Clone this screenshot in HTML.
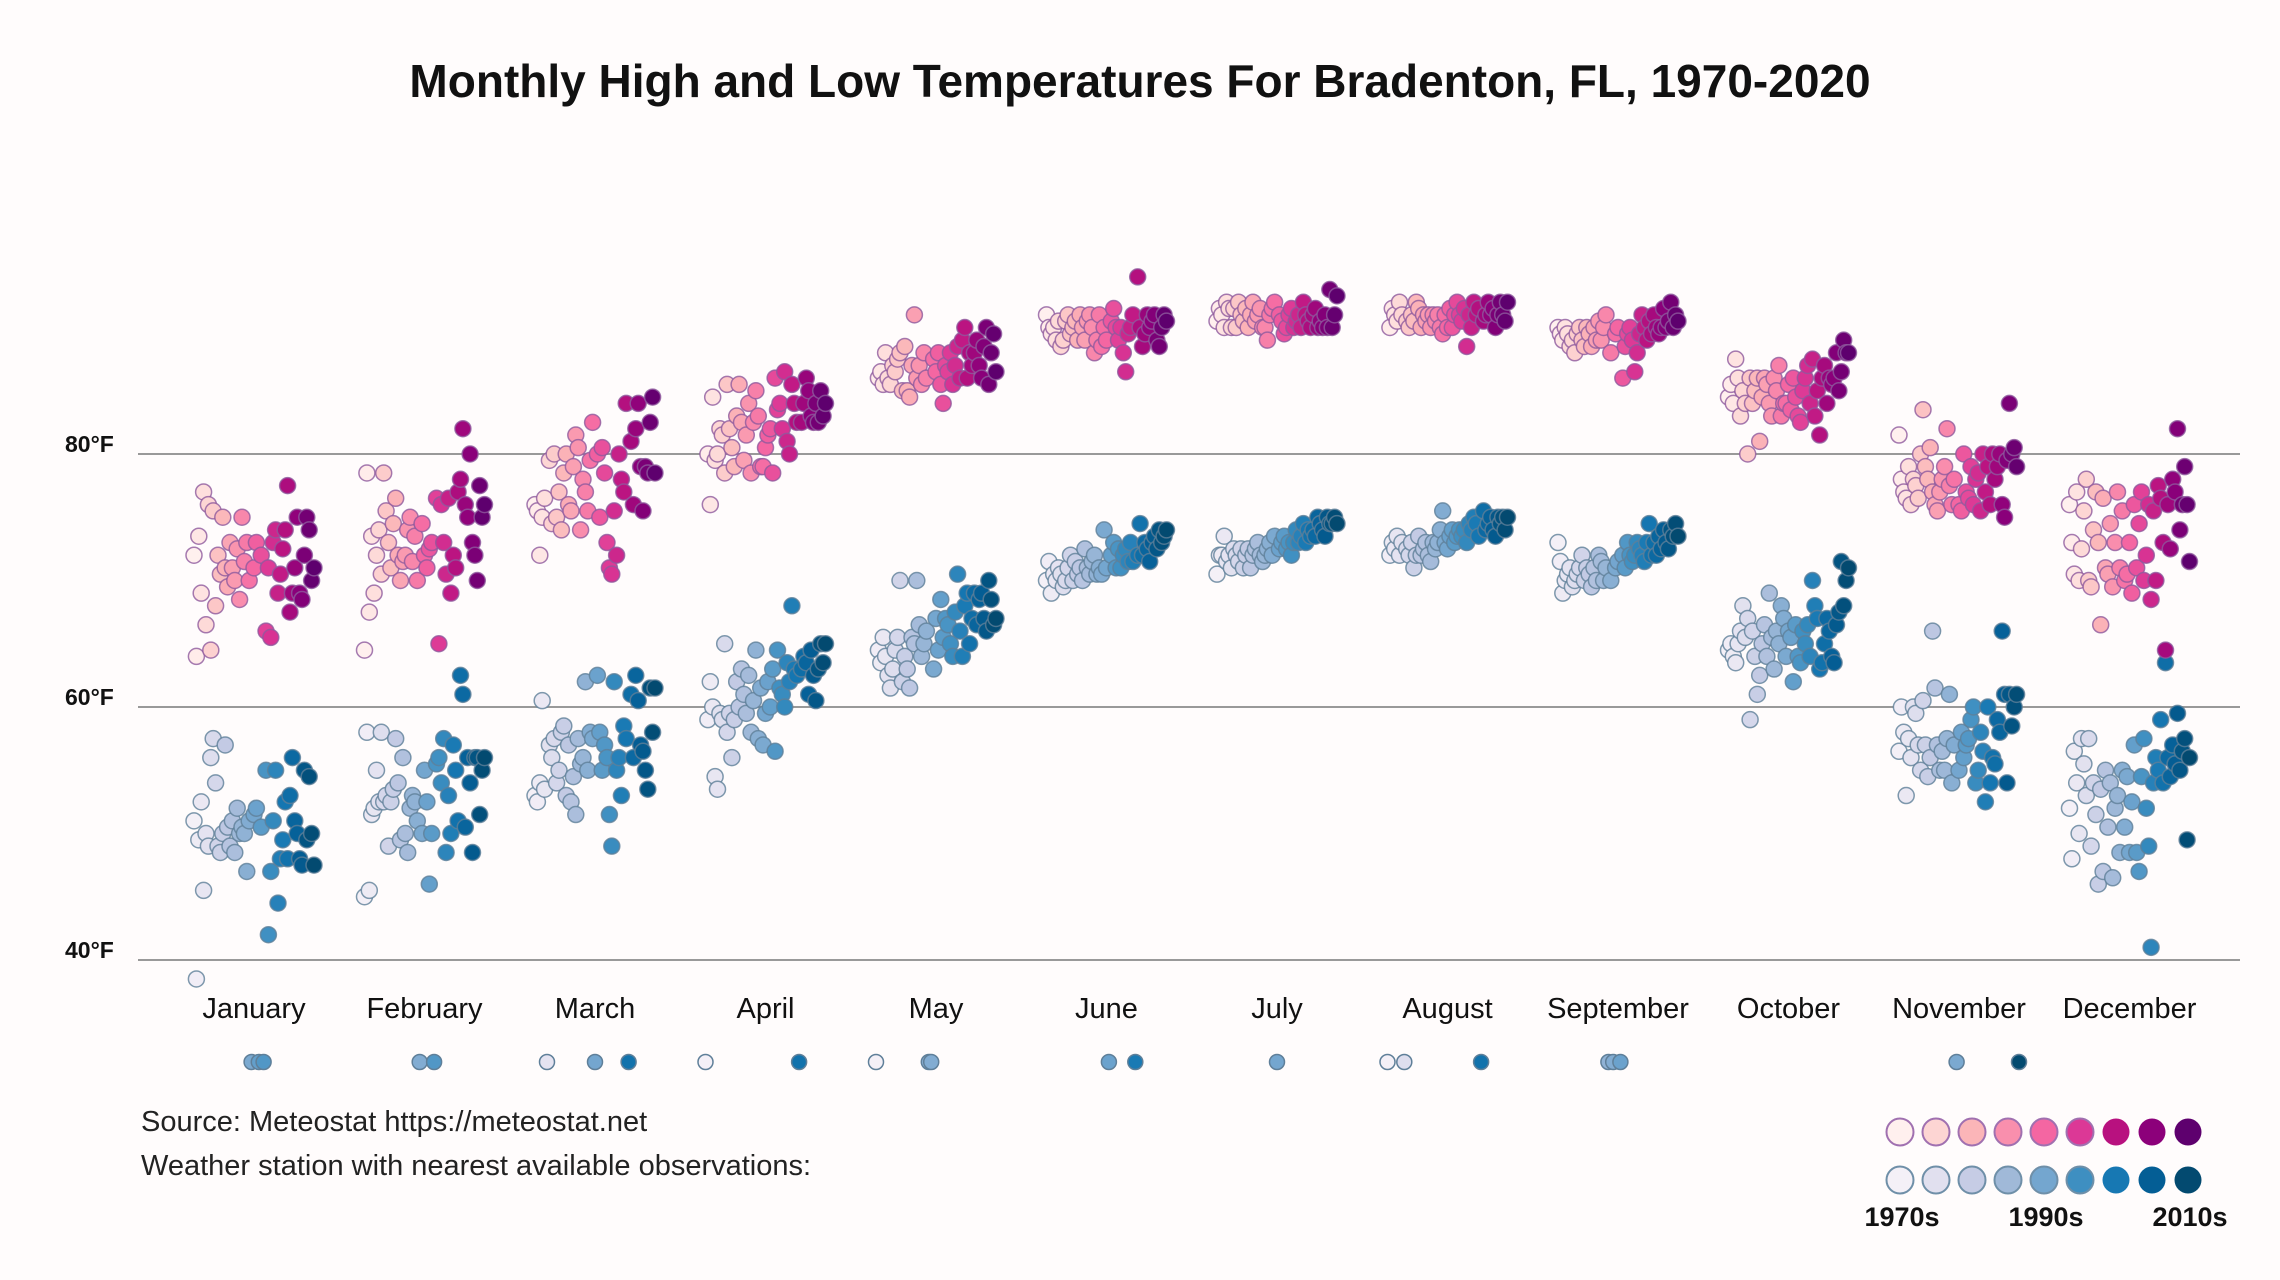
<!DOCTYPE html>
<html><head><meta charset="utf-8"><style>
body{margin:0;background:#fffcfc;}
svg{display:block;font-family:"Liberation Sans",sans-serif;}
</style></head><body>
<svg id="chart" width="2280" height="1280" viewBox="0 0 2280 1280" xmlns="http://www.w3.org/2000/svg">
<rect width="2280" height="1280" fill="#fffcfc"/>
<text x="1140" y="97" text-anchor="middle" font-size="46" font-weight="bold" fill="#111">Monthly High and Low Temperatures For Bradenton, FL, 1970-2020</text>
<g id="grid"></g>
<g id="lows"></g>
<g id="highs"></g>
<g id="months"></g>
<g id="missing"></g>
<text x="141" y="1131" font-size="29" fill="#222">Source: Meteostat https://meteostat.net</text>
<text x="141" y="1175" font-size="29" fill="#222">Weather station with nearest available observations:</text>
<g id="legend"></g>
</svg>
<script>
const months=["January","February","March","April","May","June","July","August","September","October","November","December"];
const yTicks=[40,60,80];
const tickLabels=["40°F","60°F","80°F"];
const legendLabels=["1970s","1990s","2010s"];
const N=null;
const highs=[
[72,64,73.5,69,77,66.5,76,64.5,75.5,68, 72,70.5,75,71,69.5,73,71,70,72.5,68.5, 75,71.5,73,70,N,71,73,N,72,N, 66,71,65.5,73,74,69,70.5,72.5,74,77.5, 67.5,69,71,75,69,68.5,72,75,74,70, 71],
[64.5,78.5,67.5,73.5,69,72,74,70.5,78.5,75.5, 73,71,74.5,76.5,72,70,71.5,72,74,75, 71.5,73.5,70,N,74.5,72,71,72.5,73,N, 76.5,65,76,73,70.5,76.5,69,72,71,77, 78,82,76,75,80,73,72,70,77.5,75, 76],
[76,75.5,72,75,76.5,N,79.5,74.5,80,75, 77,74,78.5,80,76,75.5,79,81.5,80.5,74, 78,77,75.5,79.5,82.5,N,80,75,80.5,78.5, 73,71,70.5,75.5,72,80,78,77,84,N, 81,76,82,84,79,75.5,79,78.5,82.5,84.5, 78.5],
[N,80,76,84.5,79.5,80,82,81.5,78.5,85.5, 82,80.5,79,83,85.5,82.5,79.5,81.5,84,78.5, 82.5,85,83,79,79,80.5,81.5,82,78.5,86, 83.5,84,82,86.5,81,80,85.5,84,82.5,N, 82.5,84,86,85,83,82.5,84,82.5,85,83, 84],
[N,86,86.5,85.5,88,86,85.5,87,86.5,87.5, 88,85,88.5,85,84.5,87,91,86,87,85.5, 88,86,N,N,87.5,86.5,88,85.5,84,87, 86.5,88,85.5,87,88.5,86,89,90,86,88, 87,88,89,87,86,88.5,90,85.5,88,89.5, 86.5],
[91,90,89.5,90,89,90.5,88.5,89,90.5,91, 89.5,90,90.5,89,91,90,89,90.5,91,90, 88,89,91,88.5,90,89,N,90.5,91.5,90, 89,90,88,86.5,89.5,90,91,N,94,90, 88.5,89.5,91,90,90.5,91,89,88.5,90,91, 90.5],
[90.5,91.5,91,90,92,91.5,90,91.5,90,92, 91,90.5,91.5,90,91,92,90.5,91,91.5,90, 90,89,91,91.5,92,N,91,90.5,89.5,90, 91,91.5,90,90.5,91,90,92,91,90.5,90, 91,91.5,90,90.5,90,91,90,93,90,91, 92.5],
[N,90,91.5,91,90.5,92,91,N,90.5,90, 91,90.5,92,91.5,90,91,90.5,91,90,91, 90.5,91,90,89.5,91,90,91.5,90,91,92, 91,90.5,91.5,88.5,91,90,92,91,91.5,N, 90.5,91,92,91,91.5,90,91,92,91,90.5, 92],
[90,89.5,89,90,89.5,88.5,89,88,89.5,90, 89,88.5,90,89.5,88.5,90,89,90.5,89,90, 91,N,88,N,89.5,90,N,86,88.5,89.5, 90,89,86.5,88,89.5,91,90,89,90.5,89.5, 91,90,89.5,90,91.5,90,90.5,92,90,91, 90.5],
[84.5,85.5,84,87.5,86,83,85,84,80,86, 84,85,86,81,84.5,86,85.5,84,83,86, 85,87,83,84,84,85.5,83.5,86,84.5,83, 82.5,85,86,87,84,87.5,83,85,81.5,86, 87,84,86,85.5,86,88,85,86.5,89,88, 88],
[81.5,78,77,76.5,79,76,78,77.5,76.5,80, 83.5,79,78,80.5,77,76,75.5,77,78,79, 82,77.5,76,78,N,76,75.5,80,77,76.5, 79,76,78,78.5,75.5,80,77,79,76,80, 78,79,80,76,75,79.5,84,80,80.5,79, N],
[76,73,70.5,77,70,72.5,75.5,78,70,69.5, 74,77,73,66.5,76.5,71,70.5,74.5,69.5,73, 77,71,75.5,70,70.5,73,69,76,71,74.5, 77,70,72,76,68.5,75.5,70,77.5,76.5,73, 64.5,76,72.5,78,77,82,74,76,79,76, 71.5]
];
const lows=[
[51,38.5,49.5,52.5,45.5,50,49,56,57.5,54, 49,48.5,50,57,50.5,49,51,48.5,52,50, 50.5,50,47,51,N,51.5,52,N,50.5,N, 55,42,47,51,55,44.5,48,49.5,52.5,48, 53,56,51,50,48,47.5,55,49.5,54.5,50, 47.5],
[45,58,45.5,51.5,52,55,52.5,58,52.5,53, 49,52.5,53.5,57.5,54,49.5,56,50,48.5,52, 53,52.5,51,N,50,55,52.5,46,50,N, 55.5,56,54,57.5,48.5,53,50,57,55,51, 62.5,61,50.5,56,54,48.5,56,56,51.5,55, 56],
[53,52.5,54,60.5,53.5,N,57,56,57.5,54, 55,58,58.5,53,57,52.5,54.5,51.5,57.5,55.5, 56,62,55,58,57.5,N,62.5,58,55,57, 56,51.5,49,62,55,56,53,58.5,57.5,N, 61,56,62.5,60.5,57,56.5,55,53.5,61.5,58, 61.5],
[N,59,62,60,54.5,53.5,59.5,59,65,58, 59.5,56,59,62,60,63,61,59.5,62.5,58, 60.5,64.5,57.5,61.5,57,59.5,62,60,63,56.5, 64.5,61.5,61,60,63.5,62,68,63,62.5,N, 63,64,63.5,61,64.5,62.5,60.5,63,65,63.5, 65],
[N,64.5,63.5,65.5,64,62.5,61.5,63,64.5,65.5, 70,62,64,63,61.5,65.5,65,70,66.5,64, 65,66,N,N,63,67,64.5,68.5,65.5,67, 66.5,65,64,67.5,70.5,66,64,68,69,65, 67,69,66.5,68.5,69,67,66,70,68.5,66.5, 67],
[70,71.5,69,70.5,70,71,70.5,69.5,70,71, 72,70,71.5,70.5,71,70,72.5,71,70.5,71.5, 72,70.5,71,70.5,74,71,N,72,73,71, 72.5,71,72,72.5,71.5,73,71.5,N,72,74.5, 72,73,72.5,71.5,73,73.5,72.5,74,73,73.5, 74],
[70.5,72,72,73.5,71.5,72,71,72.5,72,71.5, 72.5,71,72,72.5,71,72,72.5,73,72,71.5, 72,72.5,73,72,73.5,N,72.5,73,73.5,72.5, 73,72,73,74,73,73.5,74.5,73,74,73.5, 74,73.5,75,74.5,74,73.5,75,74.5,74.5,75, 74.5],
[N,72,73,72.5,73.5,72,73,N,72.5,72, 73,71,72,73.5,72,72.5,73,72,71.5,73, 72.5,73,74,75.5,73,72.5,73.5,74,73,73.5, 74,73.5,74,73,74.5,74,75,74.5,73.5,N, 75.5,74,74.5,75,74,73.5,75,74.5,75,74, 75],
[73,71.5,69,70,70.5,71,69.5,70,70.5,71, 72,70,71,70.5,69.5,71,70,72,71.5,70, 71,N,70,N,71,71.5,N,72,71,73, 72,71.5,72,73,72.5,72,71.5,73,74.5,72, 73,72,73.5,72.5,74,73,72.5,74,73.5,74.5, 73.5],
[64.5,65,64,63.5,65,66,68,65.5,67,59, 66,64,61,62.5,65,66.5,64,69,65.5,63, 66,65,68,67,64,66,65.5,62,66.5,64, 63.5,66,65,66.5,64,70,68,67,63,63.5, 65,67,66,64,63.5,66.5,67.5,71.5,68,70, 71],
[56.5,60,58,53,57.5,56,60,59.5,57,55, 60.5,57,54.5,56,66,61.5,57,55,56.5,55, 57.5,61,54,57,N,55,58,56,57,57.5, 59,60,54,55,58,56.5,52.5,60,54,56, 55.5,59,58,66,61,54,61,58.5,60,61, N],
[52,48,56.5,54,50,57.5,55.5,53,57.5,49, 54,51.5,46,53.5,47,55,50.5,54,46.5,52, 53,48.5,55,50.5,54.5,48.5,52.5,57,48.5,47, 54.5,57.5,52,49,41,54,56,55,59,54, 63.5,56,54.5,57,55.5,59.5,55,56.5,57.5,49.5, 56]
];
const startYear=1970;
const pinkScale=["#fff0ee","#fdd5d3","#fbb5b8","#f98fad","#f466a2","#dc3896","#b8117f","#8c007a","#5e006e"];
const blueScale=["#f4f0f7","#e1e0ef","#c6cce5","#a0b9d8","#74a6cf","#3e8fc1","#1778b3","#045e95","#034a70"];

const NS="http://www.w3.org/2000/svg";
const X0=254, MSTEP=170.5, YRPX=2.4;
function xScale(m,year){return X0+m*MSTEP+(year-1995)*YRPX;}
function yScale(t){return 960-(t-40)*12.65;}
function hex(c){return [1,3,5].map(i=>parseInt(c.substr(i,2),16));}
function colorAt(scale,year){
  const t=(year-startYear)/50*(scale.length-1);
  const i=Math.min(scale.length-2,Math.floor(t)),f=t-i;
  const a=hex(scale[i]),b=hex(scale[i+1]);
  return "rgb("+a.map((v,k)=>Math.round(v+(b[k]-v)*f)).join(",")+")";
}
function mk(tag,attrs,parent){const e=document.createElementNS(NS,tag);for(const k in attrs)e.setAttribute(k,attrs[k]);parent.appendChild(e);return e;}

const grid=document.getElementById('grid');
yTicks.forEach((t,i)=>{
  const l=mk('line',{x1:138,x2:2240,y1:yScale(t),y2:yScale(t),stroke:'#999','stroke-width':2},grid);
  
  
  const tx=mk('text',{x:65,y:yScale(t)-2,'font-size':23,'font-weight':'bold',fill:'#111'},grid);
  tx.textContent=tickLabels[i];
  
  
});

function drawSeries(data,gid,scale,stroke,name){
  const g=document.getElementById(gid);
  data.forEach((arr,m)=>{
    arr.forEach((v,i)=>{
      if(v===null)return;
      const yr=startYear+i;
      const c=mk('circle',{cx:xScale(m,yr),cy:yScale(v),r:8,fill:colorAt(scale,yr),stroke:stroke,'stroke-width':1.5,'stroke-opacity':0.8},g);
      
      
    });
  });
}
drawSeries(lows,'lows',blueScale,'#5f7f99','low');
drawSeries(highs,'highs',pinkScale,'#8e5a9e','high');

const mg=document.getElementById('months');
months.forEach((mn,m)=>{
  const t=mk('text',{x:X0+m*MSTEP,y:1018,'text-anchor':'middle','font-size':29,fill:'#111'},mg);
  t.textContent=mn;
  
  
});

const miss=document.getElementById('missing');
highs.forEach((arr,m)=>{
  arr.forEach((v,i)=>{
    if(v!==null)return;
    const yr=startYear+i;
    const c=mk('circle',{cx:xScale(m,yr),cy:1062,r:7.5,fill:colorAt(blueScale,yr),stroke:'#5f7f99','stroke-width':1.5},miss);
    
    
  });
});

const lg=document.getElementById('legend');
for(let i=0;i<9;i++){
  const a=mk('circle',{cx:1900+i*36,cy:1132,r:13.5,fill:pinkScale[i],stroke:i<6?'#a070b0':'none','stroke-width':2},lg);
  
  
  const b=mk('circle',{cx:1900+i*36,cy:1180,r:13.5,fill:blueScale[i],stroke:i<6?'#6f8fa8':'none','stroke-width':2},lg);
  
  
}
legendLabels.forEach((s,i)=>{
  const t=mk('text',{x:1902+i*144,y:1226,'text-anchor':'middle','font-size':27,'font-weight':'bold',fill:'#111'},lg);
  t.textContent=s;
  
  
});
</script>
</body></html>
